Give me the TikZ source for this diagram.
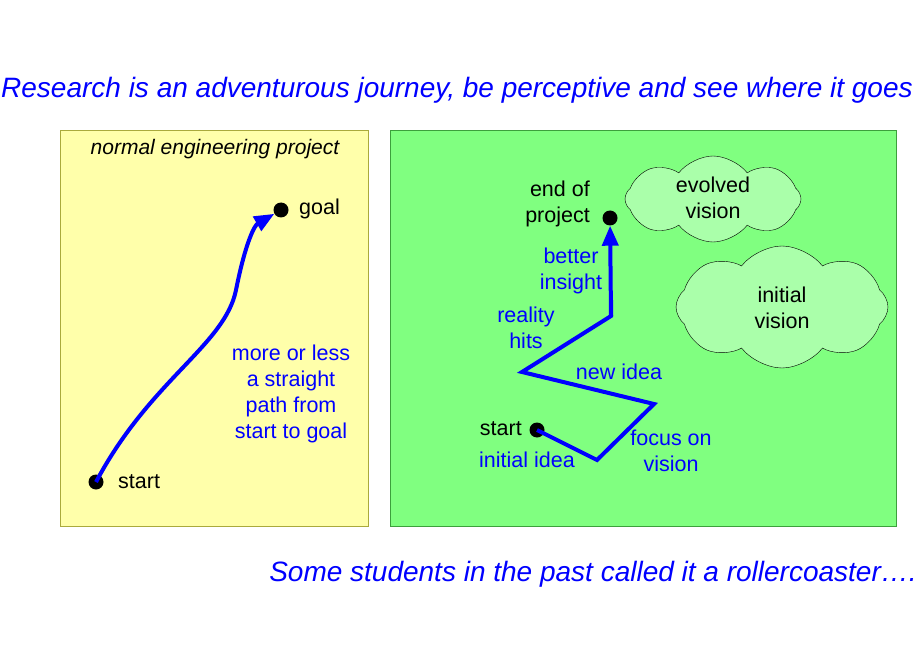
\documentclass[tikz,border=0pt]{standalone}
\usepackage{fontspec}
\setmainfont{Liberation Sans}
\usetikzlibrary{shapes.symbols,arrows.meta}
\definecolor{byel}{RGB}{255,255,170}
\definecolor{byelb}{RGB}{170,170,60}
\definecolor{bgrn}{RGB}{128,255,128}
\definecolor{bgrnb}{RGB}{60,160,60}
\definecolor{cgrn}{RGB}{170,255,170}
\definecolor{tblue}{RGB}{0,0,255}
\begin{document}
\begin{tikzpicture}[x=1pt,y=-1pt,
  txt/.style={font=\fontsize{21.5}{26}\selectfont,align=center,inner sep=0},
  btxt/.style={txt,text=tblue},
  dot/.style={circle,fill=black,minimum size=15pt,inner sep=0},
  path/.style={draw=tblue,line width=4pt,-{Triangle[length=20pt,width=16pt]}},
  cl/.style={cloud,cloud puffs=8,cloud puff arc=105,aspect=1.8,draw=black,fill=cgrn,inner sep=0}]
\useasboundingbox (0,0) rectangle (920,660);
\node[btxt,font=\fontsize{28}{30}\selectfont\itshape] (title) at (457,90) {Research is an adventurous journey, be perceptive and see where it goes};
\node[btxt,font=\fontsize{28}{30}\selectfont\itshape] (foot) at (593,574) {Some students in the past called it a rollercoaster….};
\node[draw=byelb,fill=byel,minimum width=308pt,minimum height=396pt,inner sep=0] (lbox) at (214,328) {};
\node[draw=bgrnb,fill=bgrn,minimum width=506pt,minimum height=396pt,inner sep=0] (rbox) at (643,328) {};
\node[txt,font=\fontsize{21}{24}\selectfont\itshape] (lt) at (215,149) {normal engineering project};
\node[dot] (goal) at (281,210) {};
\node[txt,anchor=west] (goall) at (299,209) {goal};
\node[dot] (ls) at (96,482) {};
\node[txt,anchor=west] (lsl) at (118,482) {start};
\draw[path] (ls.center) .. controls (150,380) and (225,345) .. (236,290) .. controls (246,240) and (255,225) .. (goal);
\node[btxt] (lt2) at (291,394) {more or less\\a straight\\path from\\start to goal};
\node[cl,minimum width=176pt,minimum height=86pt] (c1) at (713,199) {};
\node[txt] at (713,198) {evolved\\vision};
\node[cl,minimum width=212pt,minimum height=122pt] (c2) at (782,307) {};
\node[txt] at (782,308) {initial\\vision};
\node[dot] (end) at (610,218) {};
\node[txt,align=right,anchor=east] (endl) at (590,204) {end of\\project};
\node[dot] (rs) at (537,430) {};
\node[txt,anchor=east] (rsl) at (522,429) {start};
\coordinate (p1) at (597,460);
\coordinate (p2) at (654,404);
\coordinate (p3) at (522,372);
\coordinate (p4) at (611,316);
\draw[path,-] (rs.center) -- (p1) -- (p2) -- (p3) -- (p4) -- (611,300);
\draw[path] (p4) -- (end);
\node[btxt] at (527,460) {initial idea};
\node[btxt] at (671,451) {focus on\\vision};
\node[btxt] at (619,372) {new idea};
\node[btxt] at (526,328) {reality\\hits};
\node[btxt] at (571,271) {better\\insight};
\end{tikzpicture}
\end{document}
